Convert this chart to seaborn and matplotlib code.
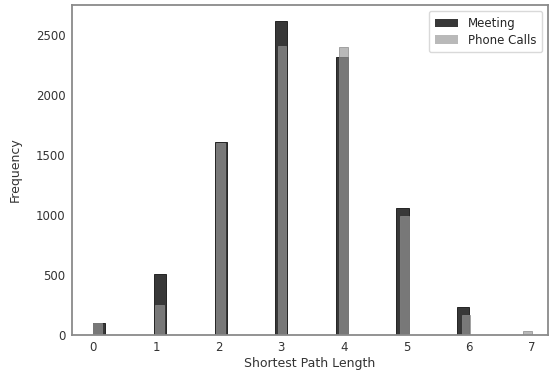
import numpy as np
import matplotlib
matplotlib.use("Agg")
import matplotlib.pyplot as plt
import seaborn as sns

# shortest path length counts
path_len = [0, 1, 2, 3, 4, 5, 6, 7]
meeting = [100, 510, 1610, 2620, 2320, 1060, 235, 0]
phone_calls = [100, 250, 1600, 2410, 2400, 995, 167, 28]

sns.set_style("white")
plt.rcParams["font.family"] = ["DejaVu Sans"]

fig = plt.figure(figsize=(5.52, 3.70), dpi=100)
ax = fig.add_axes([0.130, 0.095, 0.863, 0.891])

# meeting lengths span 0..6, phone call lengths 0..7
sns.histplot(x=path_len[:7], weights=meeting[:7], bins=31, binrange=(0, 6),
             color="#000000", alpha=0.78, edgecolor="#111111", linewidth=0.6,
             label="Meeting", ax=ax)
sns.histplot(x=path_len, weights=phone_calls, bins=50, binrange=(0, 7),
             color="#989898", alpha=0.68, edgecolor="#8a8a8a", linewidth=0.5,
             label="Phone Calls", ax=ax)

ax.set_xlim(-0.345, 7.26)
ax.set_ylim(0, 2750)
ax.set_xticks(range(8))
ax.set_yticks([0, 500, 1000, 1500, 2000, 2500])
ax.tick_params(labelsize=8.5, colors="#333333", length=0, pad=4.5)
ax.set_xlabel("Shortest Path Length", fontsize=9, color="#333333", labelpad=2)
ax.set_ylabel("Frequency", fontsize=9, color="#333333", labelpad=10)
for s in ax.spines.values():
    s.set_color("#8a8a8a")
    s.set_linewidth(1.3)

leg = ax.legend(loc="upper right", fontsize=8.5, frameon=True,
                borderpad=0.5, handlelength=2.0, labelspacing=0.3)
leg.get_frame().set_edgecolor("#d0d0d0")
for h in leg.legend_handles:
    h.set_edgecolor("none")

fig.savefig("out.png", dpi=100)
